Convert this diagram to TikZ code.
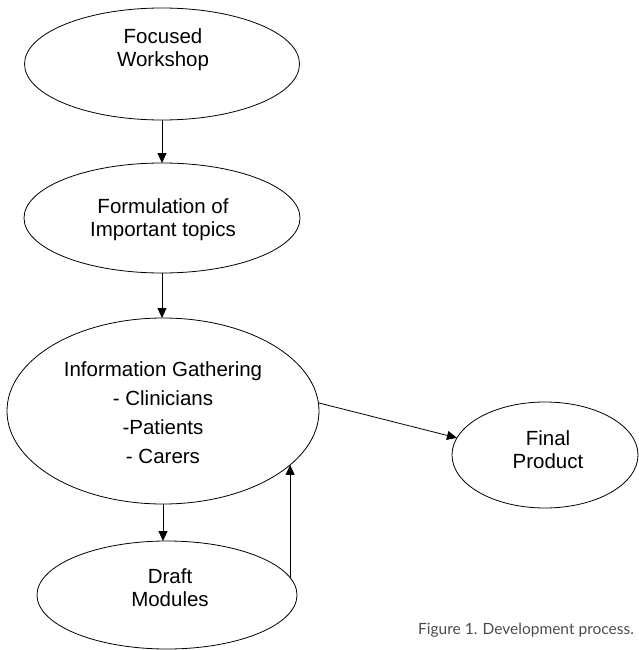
\documentclass[tikz,border=0pt]{standalone}
\usepackage{fontspec}
\setmainfont{Liberation Sans}
\newfontfamily\capfont{Lato}
\usetikzlibrary{shapes.geometric,arrows.meta}
\begin{document}
\begin{tikzpicture}[x=1pt,y=-1pt,
  oval/.style={ellipse,draw,line width=0.8pt,inner sep=0pt,outer sep=0pt},
  lbl/.style={align=center,font=\fontsize{20.5}{23}\selectfont,inner sep=0pt},
  arr/.style={line width=0.8pt,-{Triangle[length=10pt,width=9pt]}}]
\useasboundingbox (0,0) rectangle (638,650);
% ellipses
\node[oval,minimum width=275pt,minimum height=112pt] (e1) at (162,64) {};
\node[oval,minimum width=276pt,minimum height=110pt] (e2) at (162,218) {};
\node[oval,minimum width=312pt,minimum height=186pt] (e3) at (163,411) {};
\node[oval,minimum width=260pt,minimum height=108pt] (d) at (167,595) {};
\node[oval,minimum width=186pt,minimum height=106pt] (f) at (545,455) {};
% texts
\node[lbl] (t1) at (163,50) {Focused\\Workshop};
\node[lbl] (t2) at (163,220) {Formulation of\\Important topics};
\node[lbl,font=\fontsize{20.5}{29}\selectfont] (t3) at (163,413) {Information Gathering\\- Clinicians\\-Patients\\- Carers};
\node[lbl] (t4) at (170,588) {Draft\\Modules};
\node[lbl] (t5) at (548,450) {Final\\Product};
\node[font=\capfont\fontsize{15.5}{17}\selectfont,text=black!70,inner sep=0pt] (cap) at (526,630) {Figure 1. Development process.};
% connectors
\draw[arr] (e1.south) -- (e2.north);
\draw[arr] (e2.south) -- (e2.south |- e3.north);
\draw[arr] (e3.south) -- (e3.south |- d.north);
\draw[arr] (d.8.7) -- (d.8.7 |- e3.-23.5);
\draw[arr] (e3.3.7) -- (f.169);
\end{tikzpicture}
\end{document}
